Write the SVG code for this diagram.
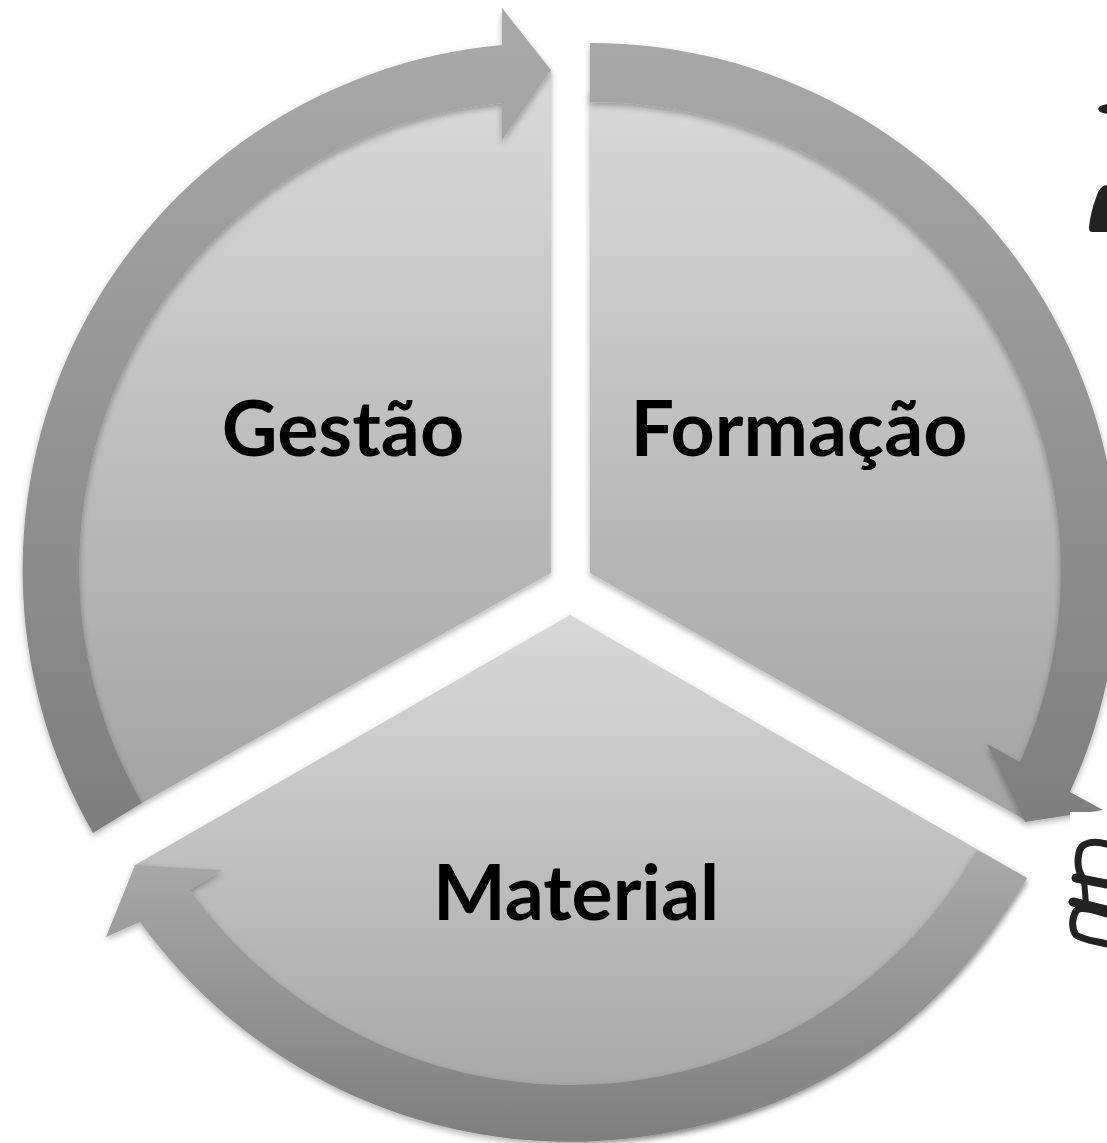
<svg xmlns="http://www.w3.org/2000/svg" width="1107" height="1143" viewBox="0 0 1107 1143">
<style>
.lbl{font-family:"Lato","Open Sans",sans-serif;font-weight:700;font-size:77px;fill:#000;text-anchor:middle}
.icon{fill:#222}
.iconline{fill:none;stroke:#222;stroke-width:6;stroke-linecap:round}
</style>
<defs>
<linearGradient id="gPieA" gradientUnits="userSpaceOnUse" x1="0" y1="60" x2="0" y2="830"><stop offset="0" stop-color="#dadada"/><stop offset="1" stop-color="#a2a2a2"/></linearGradient>
<linearGradient id="gPieM" gradientUnits="userSpaceOnUse" x1="0" y1="615" x2="0" y2="1090"><stop offset="0" stop-color="#d8d8d8"/><stop offset="1" stop-color="#a8a8a8"/></linearGradient>
<linearGradient id="gRingA" gradientUnits="userSpaceOnUse" x1="0" y1="40" x2="0" y2="830"><stop offset="0" stop-color="#a8a8a8"/><stop offset="1" stop-color="#7e7e7e"/></linearGradient>
<linearGradient id="gRingM" gradientUnits="userSpaceOnUse" x1="0" y1="860" x2="0" y2="1143"><stop offset="0" stop-color="#a8a8a8"/><stop offset="1" stop-color="#7e7e7e"/></linearGradient>
<filter id="sh" x="-10%" y="-10%" width="120%" height="120%"><feDropShadow dx="0" dy="3" stdDeviation="3" flood-color="#000" flood-opacity="0.3"/></filter>
</defs>
<rect width="1107" height="1143" fill="#fff"/>
<g id="node-formacao">
<path d="M590 90A483 483 0 0 1 1030 760L1025 820L590 573Z" fill="url(#gPieA)" filter="url(#sh)"/>
<text class="lbl" x="799" y="456">Formação</text>
</g>
<g id="node-gestao">
<path d="M551 70L551 573L142 803L125 790A483 483 0 0 1 502 90Z" fill="url(#gPieA)" filter="url(#sh)"/>
<text class="lbl" x="343" y="456">Gestão</text>
</g>
<g id="node-material">
<path d="M570 615L1027 878L985 940A483 483 0 0 1 180 900L135 865Z" fill="url(#gPieM)" filter="url(#sh)"/>
<text class="lbl" x="576" y="920">Material</text>
</g>
<g id="connectors">
<path id="arrow-formacao" d="M590 43A528 528 0 0 1 1070 792L1103 810L1025 822L987 744L1020 762A469 469 0 0 0 590 102Z" fill="url(#gRingA)" filter="url(#sh)"/>
<path id="arrow-material" d="M1027 878A529 529 0 0 1 140 922L106 937L135 865L222 870L190 890A469 469 0 0 0 977 850Z" fill="url(#gRingM)" filter="url(#sh)"/>
<path id="arrow-gestao" d="M93 833A527 527 0 0 1 502 45L502 8L551 70L502 140L502 103A468 468 0 0 0 142 803Z" fill="url(#gRingA)" filter="url(#sh)"/>
</g>
<g id="icons">
<rect x="1070" y="812" width="37" height="150" fill="#fff"/>
<path class="icon" d="M1107 104L1100 106L1098 109L1100 112L1107 114Z"/>
<path class="icon" d="M1107 185C1100 186 1098 192 1096 198C1092 208 1090 218 1089 227C1089 231 1090 232 1093 232L1107 232Z"/>
<path class="iconline" style="stroke-width:7" d="M1107 844C1095 841 1081 841 1079 853C1077 862 1078 872 1084 880"/>
<path class="iconline" style="stroke-width:9" d="M1076 878L1107 884"/>
<path class="iconline" d="M1084 880L1086 904"/>
<path class="iconline" style="stroke-width:9" d="M1073 902L1107 910"/>
<path class="iconline" style="stroke-width:7" d="M1107 914C1095 911 1081 905 1076 911C1072 918 1071 928 1076 935C1083 940 1095 941 1107 944"/>
</g>
</svg>
